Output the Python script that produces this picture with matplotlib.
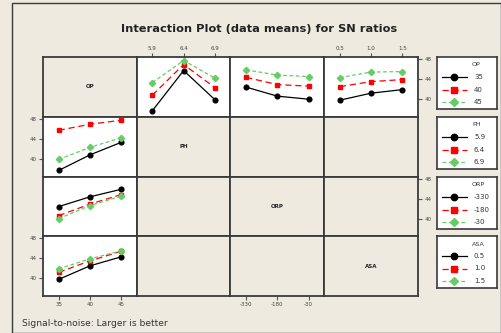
import matplotlib
matplotlib.use("Agg")
import matplotlib.pyplot as plt
from matplotlib.patches import Rectangle

# factor levels
factors = ["OP", "PH", "ORP", "ASA"]
op_levels = ["35", "40", "45"]
ph_levels = ["5.9", "6.4", "6.9"]
orp_levels = ["-330", "-180", "-30"]
asa_levels = ["0.5", "1.0", "1.5"]
levels = [op_levels, ph_levels, orp_levels, asa_levels]

# SN ratio means, rows = OP level, columns = level of the other factor
op_ph = [[37.7, 45.7, 39.9],
         [40.8, 46.9, 42.3],
         [43.3, 47.7, 44.2]]
op_orp = [[42.4, 40.6, 40.0],
          [44.35, 42.9, 42.6],
          [45.85, 44.8, 44.5]]
op_asa = [[39.8, 41.2, 41.9],
          [42.5, 43.5, 43.9],
          [44.3, 45.4, 45.5]]
tables = {1: op_ph, 2: op_orp, 3: op_asa}

bg = "#eeeae0"
edge = "#3a3a3a"
styles = [
    dict(color="black", marker="o", linestyle="-", ms=3.4),
    dict(color="#ff0000", marker="s", linestyle=(0, (5, 3)), ms=3.2),
    dict(color="#66cc66", marker="D", linestyle=(0, (3, 2)), ms=3.2),
]

W, H = 502, 333
fig = plt.figure(figsize=(W / 100, H / 100), dpi=100, facecolor=bg)
fig.patches.append(Rectangle((12 / W, 0), 489 / W, 1 - 3 / H, transform=fig.transFigure,
                             fill=False, edgecolor=edge, lw=1.0))


def px_axes(x0, y0, x1, y1, **kw):
    return fig.add_axes([x0 / W, 1 - y1 / H, (x1 - x0) / W, (y1 - y0) / H], **kw)


xs = [43 + 93.75 * i for i in range(5)]
ys = [57 + 59.75 * i for i in range(5)]
ylim = (36.5, 48.4)

for r in range(4):
    for c in range(4):
        ax = px_axes(xs[c], ys[r], xs[c + 1], ys[r + 1])
        has_data = (r == 0 and c > 0) or (c == 0 and r > 0)
        ax.set_facecolor("white" if has_data else bg)
        for s in ax.spines.values():
            s.set_color(edge)
            s.set_linewidth(1.3)
        ax.set_xlim(-0.5, 2.5)
        ax.set_ylim(*ylim)
        ax.tick_params(length=3, width=0.8, color="#555555", labelsize=4,
                       labelcolor="#444444", pad=1.5)
        ax.set_xticks([])
        ax.set_yticks([])

        if r == 0 and c > 0:
            tab = tables[c]
            for k in range(3):
                ax.plot(range(3), tab[k], lw=0.9, **styles[k])
        elif c == 0 and r > 0:
            tab = tables[r]
            for m in range(3):
                ax.plot(range(3), [tab[k][m] for k in range(3)], lw=0.9, **styles[m])

        if r == c:
            ax.text(0.5, 0.5, factors[r], transform=ax.transAxes, ha="center",
                    va="center", fontsize=4, fontweight="bold", color="#222222")

        # axis ticks on alternating outer edges
        if (r == 0 and c in (1, 3)) or (r == 3 and c in (0, 2)):
            ax.set_xticks(range(3))
            ax.set_xticklabels(levels[c])
            if r == 0:
                ax.xaxis.tick_top()
        if (c == 3 and r in (0, 2)) or (c == 0 and r in (1, 3)):
            ax.set_yticks([40, 44, 48])
            if c == 3:
                ax.yaxis.tick_right()

fig.text(259 / W, 1 - 29 / H, "Interaction Plot (data means) for SN ratios",
         ha="center", va="center", fontsize=8.2, fontweight="bold", color="#222222")
fig.text(22 / W, 1 - 323 / H, "Signal-to-noise: Larger is better",
         ha="left", va="center", fontsize=6.6, color="#333333")

# legend boxes, one per factor
leg_top = [57, 117, 177, 236]
for i, name in enumerate(factors):
    lax = px_axes(437, leg_top[i], 497, leg_top[i] + 52)
    lax.set_facecolor("white")
    for s in lax.spines.values():
        s.set_color(edge)
        s.set_linewidth(1.2)
    lax.set_xticks([])
    lax.set_yticks([])
    lax.set_xlim(0, 60)
    lax.set_ylim(52, 0)
    lax.text(35, 8, name, ha="left", va="center", fontsize=4.6, color="#333333")
    for k in range(3):
        yy = 20.3 + 12.2 * k
        st = styles[k]
        lax.plot([5, 30], [yy, yy], color=st["color"], linestyle=st["linestyle"], lw=0.9)
        lax.plot([17], [yy], color=st["color"], marker=st["marker"],
                 ms=st["ms"] + 1.2, linestyle="none")
        lax.text(37, yy, levels[i][k], ha="left", va="center", fontsize=5,
                 color="#333333")

fig.savefig("out.png", dpi=100, facecolor=bg)
